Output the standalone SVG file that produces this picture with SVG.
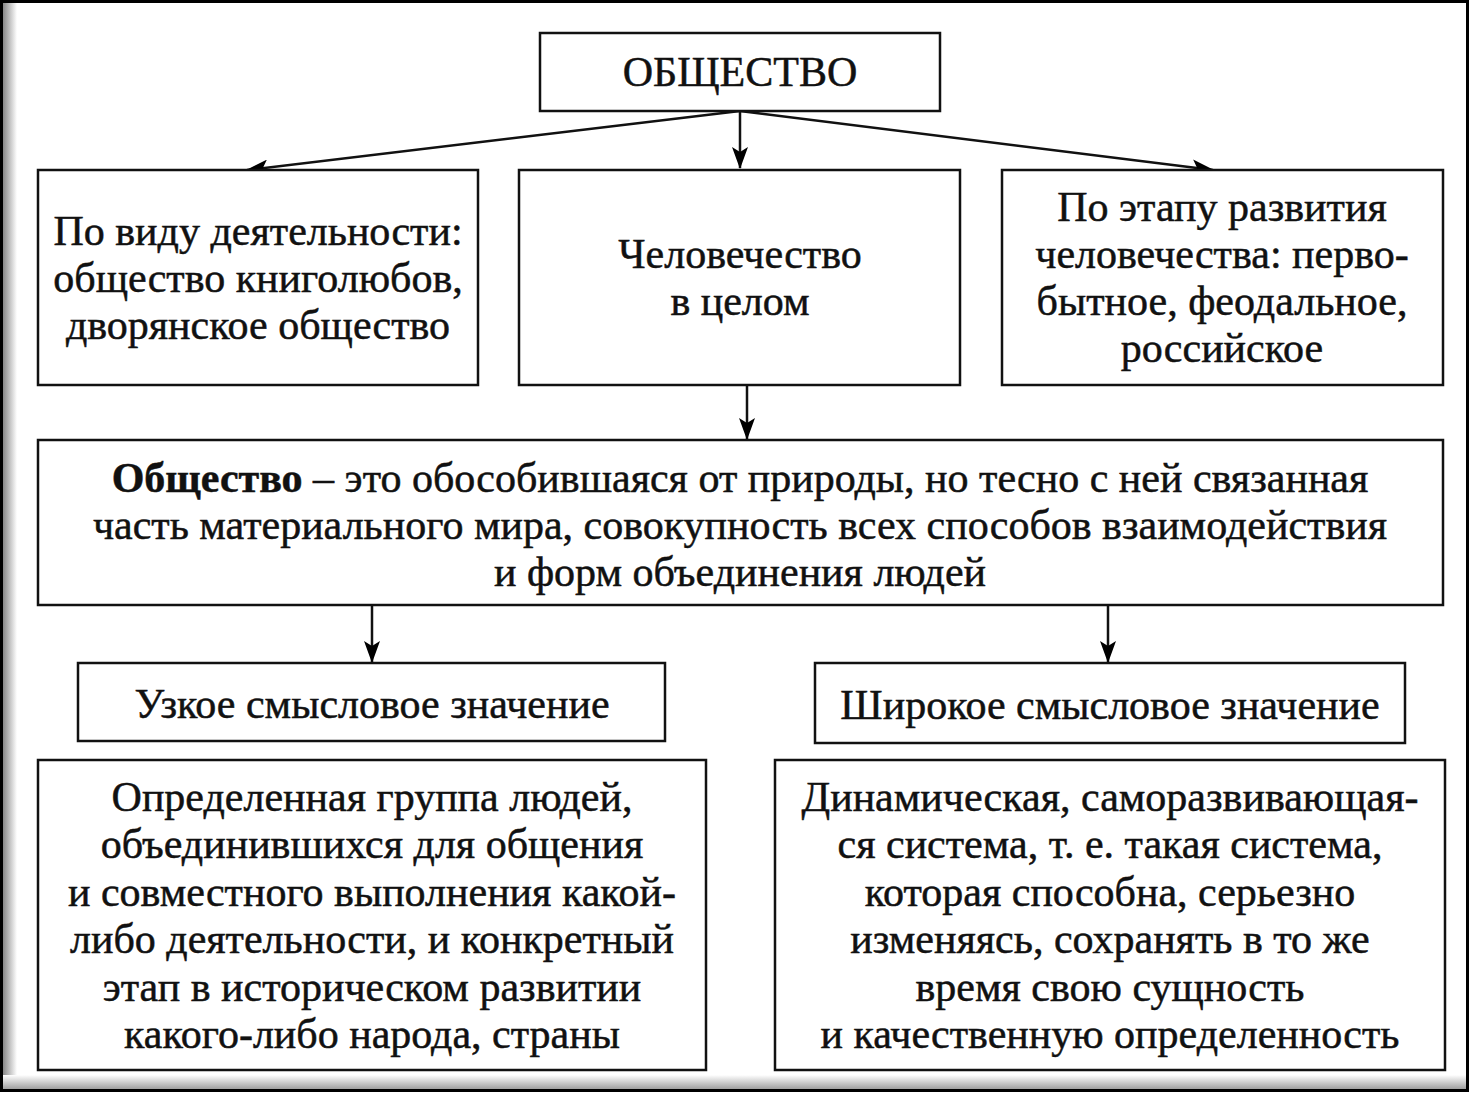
<svg xmlns="http://www.w3.org/2000/svg" width="1470" height="1093" viewBox="0 0 1470 1093">
<defs>
<marker id="ah" markerWidth="22" markerHeight="16" refX="21" refY="8" orient="auto" markerUnits="userSpaceOnUse" viewBox="0 0 22 16"><path d="M0,0 L22,8 L0,16 L5,8 Z" fill="#000"/></marker>
<linearGradient id="lsh" x1="0" x2="1" y1="0" y2="0"><stop offset="0" stop-color="#888"/><stop offset="1" stop-color="#fff"/></linearGradient>
<linearGradient id="bsh" x1="0" x2="0" y1="0" y2="1"><stop offset="0" stop-color="#fff"/><stop offset="1" stop-color="#999"/></linearGradient>
</defs>
<style>
.box{fill:#fff;stroke:#111;stroke-width:2.5}
.t{font-family:"Liberation Serif","Times New Roman",serif;font-size:42px;fill:#111;stroke:#111;stroke-width:0.5;text-anchor:middle}
.b{font-weight:bold}
.c{stroke:#111;stroke-width:2.5;fill:none}
</style>
<rect x="0" y="0" width="1470" height="1093" fill="#fff"/>
<rect x="3" y="3" width="14" height="1087" fill="url(#lsh)"/>
<rect x="3" y="1075" width="1464" height="15" fill="url(#bsh)"/>
<rect x="1.5" y="1.5" width="1466" height="1089" fill="none" stroke="#000" stroke-width="3"/>

<g id="connectors">
<path class="c" d="M740,111 L247,170" marker-end="url(#ah)"/>
<path class="c" d="M740,111 L740,168" marker-end="url(#ah)"/>
<path class="c" d="M740,111 L1213,170" marker-end="url(#ah)"/>
<path class="c" d="M747,385 L747,439" marker-end="url(#ah)"/>
<path class="c" d="M372,605 L372,662" marker-end="url(#ah)"/>
<path class="c" d="M1108,605 L1108,662" marker-end="url(#ah)"/>
</g>

<g id="node-root">
<rect class="box" x="540" y="33" width="400" height="78"/>
<text class="t" x="740" y="86">ОБЩЕСТВО</text>
</g>
<g id="node-activity">
<rect class="box" x="38" y="170" width="440" height="215"/>
<text class="t" x="258" y="245">По виду деятельности:</text>
<text class="t" x="258" y="292">общество книголюбов,</text>
<text class="t" x="258" y="339">дворянское общество</text>
</g>
<g id="node-humanity">
<rect class="box" x="519" y="170" width="441" height="215"/>
<text class="t" x="740" y="268">Человечество</text>
<text class="t" x="740" y="315">в целом</text>
</g>
<g id="node-stage">
<rect class="box" x="1002" y="170" width="441" height="215"/>
<text class="t" x="1222" y="221">По этапу развития</text>
<text class="t" x="1222" y="268">человечества: перво-</text>
<text class="t" x="1222" y="315">бытное, феодальное,</text>
<text class="t" x="1222" y="362">российское</text>
</g>
<g id="node-definition">
<rect class="box" x="38" y="440" width="1405" height="165"/>
<text class="t" x="740" y="492"><tspan class="b">Общество</tspan> – это обособившаяся от природы, но тесно с ней связанная</text>
<text class="t" x="740" y="539">часть материального мира, совокупность всех способов взаимодействия</text>
<text class="t" x="740" y="586">и форм объединения людей</text>
</g>
<g id="node-narrow">
<rect class="box" x="78" y="663" width="587" height="78"/>
<text class="t" x="372" y="718">Узкое смысловое значение</text>
</g>
<g id="node-wide">
<rect class="box" x="815" y="663" width="590" height="80"/>
<text class="t" x="1110" y="719">Широкое смысловое значение</text>
</g>
<g id="node-narrow-def">
<rect class="box" x="38" y="760" width="668" height="310"/>
<text class="t" x="372" y="811">Определенная группа людей,</text>
<text class="t" x="372" y="858">объединившихся для общения</text>
<text class="t" x="372" y="906">и совместного выполнения какой-</text>
<text class="t" x="372" y="953">либо деятельности, и конкретный</text>
<text class="t" x="372" y="1001">этап в историческом развитии</text>
<text class="t" x="372" y="1048">какого-либо народа, страны</text>
</g>
<g id="node-wide-def">
<rect class="box" x="775" y="760" width="670" height="310"/>
<text class="t" x="1110" y="811">Динамическая, саморазвивающая-</text>
<text class="t" x="1110" y="858">ся система, т. е. такая система,</text>
<text class="t" x="1110" y="906">которая способна, серьезно</text>
<text class="t" x="1110" y="953">изменяясь, сохранять в то же</text>
<text class="t" x="1110" y="1001">время свою сущность</text>
<text class="t" x="1110" y="1048">и качественную определенность</text>
</g>
</svg>
